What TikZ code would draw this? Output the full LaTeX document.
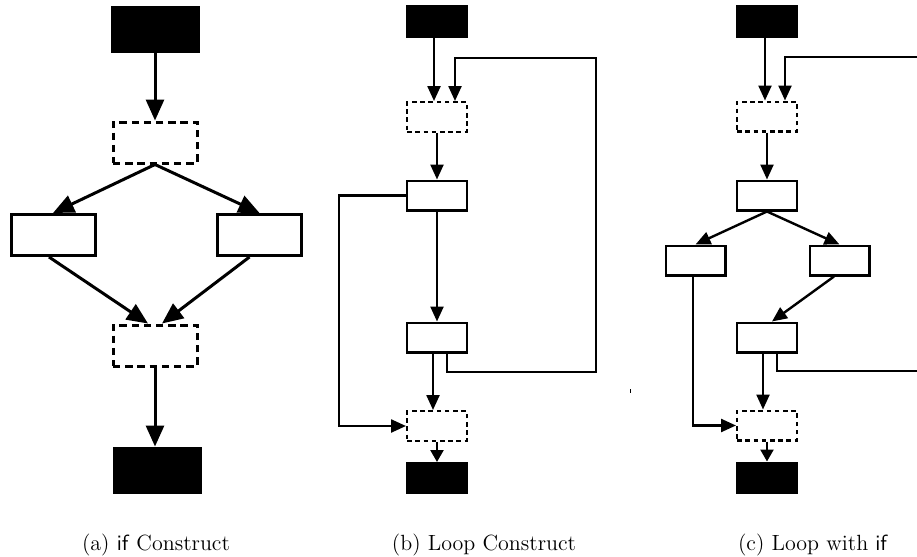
\documentclass[tikz,border=0pt]{standalone}
\usetikzlibrary{arrows.meta}
\begin{document}
\begin{tikzpicture}[x=0.5pt, y=-0.5pt,
    blk/.style={draw, fill=black, inner sep=0pt},
    box/.style={draw, fill=white, inner sep=0pt},
    dbox/.style={draw, inner sep=0pt},
    sizeA/.style={line width=1.5pt, minimum width=42pt, minimum height=20.5pt},
    sizeB/.style={line width=1.2pt, minimum width=29.8pt, minimum height=14.8pt},
    dashA/.style={dash pattern=on 3.7pt off 2.4pt},
    dashB/.style={dash pattern=on 2.3pt off 1.8pt},
    arrA/.style={line width=1.5pt, -{Triangle[length=10.5pt, width=9pt]}},
    arrB/.style={line width=1.2pt, -{Triangle[length=7.5pt, width=6.5pt]}},
    arrBs/.style={line width=1.2pt, -{Triangle[length=6pt, width=6.5pt]}},
    captxt/.style={font=\fontsize{11pt}{13pt}\selectfont}]
    \useasboundingbox (0,0) rectangle (917,557);

    % (a) if
    \node[blk, sizeA, minimum width=43pt, minimum height=22pt] (a1) at (155,29.5) {};
    \node[dbox, dashA, sizeA] (a2) at (155,142.5) {};
    \node[box, sizeA] (a3) at (53,235) {};
    \node[box, sizeA] (a4) at (259.5,235) {};
    \node[dbox, dashA, sizeA] (a5) at (155,345.5) {};
    \node[blk, sizeA, minimum width=43pt, minimum height=22pt] (a6) at (157.5,470) {};

    \draw[arrA] (a1) -- (a2);
    \draw[arrA] (a2.south) -- (a3.north);
    \draw[arrA] (a2.south) -- (a4.north);
    \draw[arrA] ([xshift=-2pt]a3.south) -- ([xshift=-3.5pt]a5.north);
    \draw[arrA] ([xshift=-5pt]a4.south) -- ([xshift=3.5pt]a5.north);
    \draw[arrA] (a5.south) -- (a5.south |- a6.north);

    % (b) loop
    \node[blk, sizeB, minimum height=15.3pt] (b1) at (437,21.5) {};
    \node[dbox, dashB, sizeB] (b2) at (437,117) {};
    \node[box, sizeB] (b3) at (437,195.5) {};
    \node[box, sizeB] (b4) at (437,337.5) {};
    \node[dbox, dashB, sizeB] (b5) at (437,426) {};
    \node[blk, sizeB] (b6) at (437,478) {};
    \coordinate (bR1) at (596,372);
    \coordinate (bR2) at (596,58);
    \coordinate (bL) at (339,426);

    \draw[arrB] ([xshift=-1.5pt]b1.south) -- ([xshift=-1.5pt]b2.north);
    \draw[arrB] ([xshift=5pt]b4.south) |- (bR1) -- (bR2) -| ([xshift=9pt]b2.north);
    \draw[arrB] (b2) -- (b3);
    \draw[arrB] (b3) -- (b4);
    \draw[arrB] ([xshift=-2pt]b4.south) -- ([xshift=-2pt]b5.north);
    \draw[arrB] (b3.west) -| (bL) -- (b5.west);
    \draw[arrBs] (b5) -- (b6);
    \draw[line width=0.5pt] (630,389) -- (630,393);

    % (c) loop with if
    \node[blk, sizeB, minimum height=15.3pt] (c1) at (767,21.5) {};
    \node[dbox, dashB, sizeB] (c2) at (767,116.5) {};
    \node[box, sizeB] (c3) at (767,195.5) {};
    \node[box, sizeB] (c4) at (695.5,260.5) {};
    \node[box, sizeB] (c5) at (839.5,260.5) {};
    \node[box, sizeB] (c6) at (767,337.5) {};
    \node[dbox, dashB, sizeB] (c7) at (767,425.5) {};
    \node[blk, sizeB] (c8) at (767,477.5) {};
    \coordinate (cR1) at (917,57);
    \coordinate (cR2) at (917,371);

    \draw[arrB] ([xshift=-1pt]c1.south) -- ([xshift=-1pt]c2.north);
    \draw[arrB] (cR1) -| ([xshift=9pt]c2.north);
    \draw[arrB] (c2) -- (c3);
    \draw[arrB] (c3.south) -- (c4.north);
    \draw[arrB] (c3.south) -- (c5.north);
    \draw[arrB] ([xshift=-2.75pt]c5.south) -- ([xshift=2.5pt]c6.north);
    \draw[arrB] ([xshift=-2pt]c6.south) -- ([xshift=-2pt]c7.north);
    \draw[line width=1.2pt] ([xshift=5pt]c6.south) |- (cR2);
    \draw[arrB] ([xshift=-1.25pt]c4.south) |- (c7.west);
    \draw[arrBs] (c7) -- (c8);

    % Captions
    \node[captxt] (capA) at (156,545) {(a) \textsf{if} Construct};
    \node[captxt] (capB) at (484,545) {(b) Loop Construct};
    \node[captxt] (capC) at (813,545) {(c) Loop with \textsf{if}};
\end{tikzpicture}
\end{document}
